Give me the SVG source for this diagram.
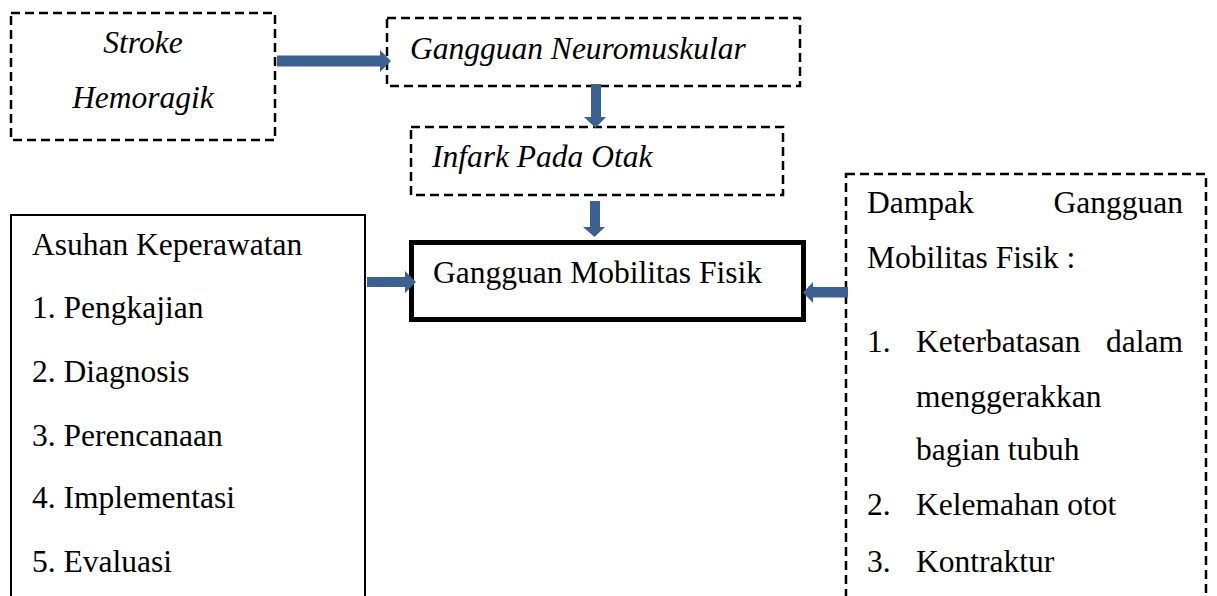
<svg xmlns="http://www.w3.org/2000/svg" width="1217" height="596" viewBox="0 0 1217 596" font-family="Liberation Serif, DejaVu Serif, serif">
<style>
  text { font-size: 31.5px; fill: #000; }
  .it { font-style: italic; }
  .dash { fill: #fff; stroke: #000; stroke-width: 2.5; stroke-dasharray: 9 5; }
  .solid { fill: #fff; stroke: #000; stroke-width: 2; }
  .thick { fill: #fff; stroke: #000; stroke-width: 5; }
  .arrow { fill: #3C6090; stroke: none; }
</style>
<rect width="1217" height="596" fill="#fff"/>

<g id="node-stroke">
  <rect class="dash" x="11" y="13" width="264" height="127"/>
  <text class="it" x="143" y="53" text-anchor="middle" style="font-family: 'Liberation Serif', serif">Stroke</text>
  <text class="it" x="143" y="108" text-anchor="middle" font-family="Liberation Serif">Hemoragik</text>
</g>

<g id="node-neuromuskular">
  <rect class="dash" x="387" y="18" width="413" height="68"/>
  <text class="it" x="410" y="59">Gangguan Neuromuskular</text>
</g>

<g id="node-infark">
  <rect class="dash" x="411" y="127" width="372" height="68"/>
  <text class="it" x="432" y="167">Infark Pada Otak</text>
</g>

<g id="node-mobilitas">
  <rect class="thick" x="411.5" y="242.5" width="392" height="77"/>
  <text x="433" y="283">Gangguan Mobilitas Fisik</text>
</g>

<g id="node-asuhan">
  <rect class="solid" x="11" y="215" width="354" height="400"/>
  <text x="32" y="255">Asuhan Keperawatan</text>
  <text x="32" y="318">1. Pengkajian</text>
  <text x="32" y="382">2. Diagnosis</text>
  <text x="32" y="446">3. Perencanaan</text>
  <text x="32" y="508">4. Implementasi</text>
  <text x="32" y="572">5. Evaluasi</text>
</g>

<g id="node-dampak">
  <rect class="dash" x="846" y="174" width="360" height="440"/>
  <text x="867" y="213">Dampak</text>
  <text x="1183" y="213" text-anchor="end">Gangguan</text>
  <text x="867" y="268">Mobilitas Fisik :</text>
  <text x="867" y="352">1.</text>
  <text x="916" y="352">Keterbatasan</text>
  <text x="1183" y="352" text-anchor="end">dalam</text>
  <text x="916" y="407">menggerakkan</text>
  <text x="916" y="460">bagian tubuh</text>
  <text x="867" y="515">2.</text>
  <text x="916" y="515">Kelemahan otot</text>
  <text x="867" y="572">3.</text>
  <text x="916" y="572">Kontraktur</text>
</g>

<g id="connectors">
  <polygon class="arrow" points="277,55.5 380,55.5 380,50 391,61 380,72 380,66.5 277,66.5"/>
  <polygon class="arrow" points="591,84 601,84 601,117 606,117 595.5,128 584,117 591,117"/>
  <polygon class="arrow" points="590,201 600,201 600,227 605,227 594.5,237 583,227 590,227"/>
  <polygon class="arrow" points="367,277 405,277 405,271 416,282 405,293 405,287 367,287"/>
  <polygon class="arrow" points="848,287 813,287 813,282 803,292.5 813,303 813,297.5 848,297.5"/>
</g>
</svg>
